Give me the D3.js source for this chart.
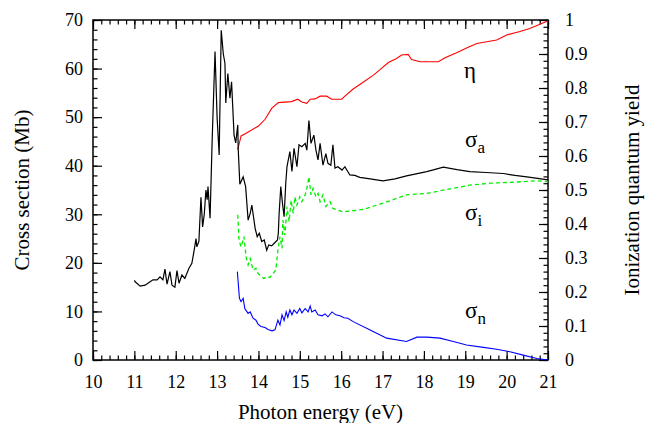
<!DOCTYPE html>
<html>
<head>
<meta charset="utf-8">
<script src="https://cdn.jsdelivr.net/npm/d3@7"></script>
<style>
  body { margin: 0; background: #fff; }
  svg text { font-family: "Liberation Serif", "Times New Roman", Times, serif; }
</style>
</head>
<body>
<svg id="chart"></svg>
<script>
// photon energy (eV) vs cross section (Mb)
const sigmaA = [
  [11.00, 16.4], [11.02, 16.1], [11.14, 15.2], [11.26, 15.4], [11.38, 16.1], [11.45, 16.5],
  [11.55, 16.5], [11.62, 17.1], [11.69, 16.5], [11.74, 18.7], [11.79, 15.6], [11.86, 18.2],
  [11.91, 15.4], [11.98, 15.0], [12.03, 18.4], [12.08, 15.8], [12.15, 17.5], [12.22, 16.8],
  [12.32, 18.9], [12.39, 19.9], [12.44, 22.3], [12.49, 25.0], [12.51, 23.3], [12.56, 24.4],
  [12.61, 33.5], [12.65, 27.4], [12.69, 30.0], [12.73, 35.0], [12.76, 33.0], [12.78, 35.7],
  [12.83, 29.2], [12.88, 45.0], [12.95, 63.5], [13.00, 50.0], [13.05, 42.2], [13.10, 67.9],
  [13.15, 63.0], [13.19, 61.1], [13.21, 52.9], [13.26, 59.0], [13.31, 53.9], [13.35, 57.3],
  [13.41, 46.3], [13.45, 44.7], [13.50, 48.4], [13.51, 43.6], [13.55, 36.2], [13.63, 37.7],
  [13.69, 35.7], [13.75, 28.8], [13.80, 30.2], [13.84, 31.9], [13.92, 27.1], [13.97, 25.4],
  [14.02, 26.1], [14.08, 24.4], [14.14, 24.7], [14.20, 22.6], [14.25, 23.7], [14.32, 23.5],
  [14.40, 24.2], [14.46, 24.7], [14.48, 26.1], [14.50, 30.2], [14.54, 35.7], [14.58, 32.3],
  [14.62, 29.5], [14.66, 36.4], [14.69, 39.8], [14.76, 42.9], [14.81, 38.8], [14.86, 43.6],
  [14.93, 39.8], [14.98, 44.3], [15.05, 43.9], [15.13, 44.6], [15.17, 43.2], [15.22, 49.3],
  [15.27, 44.6], [15.34, 46.3], [15.39, 43.2], [15.44, 41.2], [15.49, 44.6], [15.56, 40.1],
  [15.63, 42.5], [15.68, 40.5], [15.75, 40.1], [15.80, 44.3], [15.85, 39.5], [15.92, 39.8],
  [16.02, 39.1], [16.09, 39.8], [16.21, 38.1], [16.33, 38.0], [16.45, 37.6], [16.70, 37.3],
  [17.01, 36.9], [17.30, 37.3], [17.58, 37.9], [18.07, 38.8], [18.47, 39.7], [18.80, 39.2],
  [19.11, 38.8], [19.50, 38.6], [19.92, 38.4], [20.20, 38.0], [20.49, 37.7], [21.00, 37.1]
];

const sigmaI = [
  [13.50, 29.9], [13.53, 24.7], [13.58, 23.3], [13.65, 25.4], [13.70, 21.3], [13.75, 19.6],
  [13.80, 20.9], [13.87, 18.5], [13.94, 18.9], [13.99, 17.8], [14.06, 17.3], [14.13, 16.8],
  [14.21, 17.2], [14.28, 17.0], [14.35, 17.8], [14.42, 18.5], [14.47, 22.6], [14.52, 25.4],
  [14.57, 23.0], [14.59, 28.8], [14.64, 25.7], [14.69, 31.6], [14.74, 28.5], [14.79, 32.9],
  [14.84, 30.2], [14.88, 33.6], [14.93, 31.9], [15.00, 33.6], [15.05, 32.6], [15.13, 34.0],
  [15.17, 35.3], [15.22, 37.7], [15.27, 34.0], [15.32, 35.3], [15.39, 33.6], [15.44, 34.3],
  [15.49, 32.6], [15.56, 34.0], [15.63, 31.6], [15.73, 32.6], [15.80, 31.2], [16.05, 30.5],
  [16.53, 31.0], [17.02, 32.3], [17.58, 34.0], [18.07, 34.3], [18.55, 35.1], [19.11, 36.0],
  [19.60, 36.4], [20.16, 36.6], [20.73, 36.9], [21.00, 36.7]
];

const sigmaN = [
  [13.49, 18.2], [13.54, 12.7], [13.58, 12.0], [13.63, 12.7], [13.67, 10.6], [13.75, 9.6],
  [13.80, 9.9], [13.87, 8.6], [13.94, 8.2], [13.99, 7.4], [14.06, 6.9], [14.16, 6.7],
  [14.23, 6.3], [14.33, 6.0], [14.40, 6.2], [14.47, 8.2], [14.52, 7.2], [14.57, 9.3],
  [14.62, 8.1], [14.67, 9.9], [14.71, 8.8], [14.76, 10.3], [14.81, 9.3], [14.86, 10.3],
  [14.93, 9.6], [15.00, 10.6], [15.05, 9.7], [15.13, 10.6], [15.20, 9.9], [15.25, 11.1],
  [15.29, 9.9], [15.37, 10.3], [15.44, 9.3], [15.54, 9.1], [15.61, 9.5], [15.68, 8.9],
  [15.78, 9.9], [15.87, 9.3], [15.97, 9.1], [16.07, 8.7], [16.16, 8.6], [16.29, 7.9],
  [16.70, 6.2], [17.10, 4.5], [17.58, 3.8], [17.83, 4.7], [18.07, 4.7], [18.39, 4.5],
  [18.71, 3.8], [19.03, 3.1], [19.44, 2.6], [19.76, 2.2], [20.08, 1.7], [20.40, 1.0],
  [20.73, 0.3], [21.00, 0.0]
];

// ionization quantum yield (right axis)
const eta = [
  [13.49, 0.620], [13.51, 0.624], [13.58, 0.659], [13.67, 0.665], [14.00, 0.688], [14.16, 0.708],
  [14.32, 0.740], [14.48, 0.757], [14.80, 0.760], [14.95, 0.767], [15.05, 0.759], [15.17, 0.755],
  [15.25, 0.767], [15.37, 0.768], [15.49, 0.776], [15.65, 0.776], [15.77, 0.767], [16.01, 0.767],
  [16.09, 0.776], [16.29, 0.797], [16.53, 0.817], [16.78, 0.838], [16.94, 0.854], [17.14, 0.875],
  [17.34, 0.887], [17.46, 0.897], [17.62, 0.899], [17.70, 0.884], [17.91, 0.877], [18.35, 0.877],
  [18.51, 0.889], [18.79, 0.904], [19.03, 0.918], [19.28, 0.931], [19.76, 0.941], [20.00, 0.956],
  [20.32, 0.966], [20.56, 0.975], [20.89, 0.992], [21.00, 0.997]
];

const xTicks = d3.range(10, 22, 1);
const yLeftTicks = d3.range(0, 80, 10);
const yRightTicks = d3.range(0, 1.05, 0.1);

const width = 645, height = 423;
const margin = { top: 20, right: 97, bottom: 63, left: 93 };
const serif = "'Liberation Serif', 'Times New Roman', Times, serif";

const svg = d3.select("#chart")
  .attr("width", width)
  .attr("height", height)
  .attr("font-family", serif);

const x = d3.scaleLinear().domain([10, 21]).range([margin.left, width - margin.right]);
const yL = d3.scaleLinear().domain([0, 70]).range([height - margin.bottom, margin.top]);
const yR = d3.scaleLinear().domain([0, 1]).range([height - margin.bottom, margin.top]);

const fs = "18px";

function styleAxis(g) {
  g.attr("font-family", serif).attr("font-size", fs);
  g.select(".domain").remove();
  g.selectAll(".tick line").attr("stroke", "#000").attr("stroke-width", 1.2);
  g.selectAll(".tick text").attr("fill", "#000");
}

// minor ticks first
const minorX = d3.range(10, 21.001, 0.2);
const minorL = d3.range(0, 70.001, 2);
const minorR = d3.range(0, 1.0001, 0.02);

svg.append("g").attr("transform", `translate(0,${yL(0)})`)
  .call(d3.axisBottom(x).tickValues(minorX).tickSize(-4.5).tickFormat(""))
  .call(styleAxis);
svg.append("g").attr("transform", `translate(0,${yL(70)})`)
  .call(d3.axisTop(x).tickValues(minorX).tickSize(-4.5).tickFormat(""))
  .call(styleAxis);
svg.append("g").attr("transform", `translate(${x(10)},0)`)
  .call(d3.axisLeft(yL).tickValues(minorL).tickSize(-4.5).tickFormat(""))
  .call(styleAxis);
svg.append("g").attr("transform", `translate(${x(21)},0)`)
  .call(d3.axisRight(yR).tickValues(minorR).tickSize(-4.5).tickFormat(""))
  .call(styleAxis);

// major ticks with labels
svg.append("g").attr("transform", `translate(0,${yL(0)})`)
  .call(d3.axisBottom(x).tickValues(xTicks).tickSize(-9).tickPadding(15).tickFormat(d3.format("d")))
  .call(styleAxis);
svg.append("g").attr("transform", `translate(0,${yL(70)})`)
  .call(d3.axisTop(x).tickValues(xTicks).tickSize(-9).tickFormat(""))
  .call(styleAxis);
svg.append("g").attr("transform", `translate(${x(10)},0)`)
  .call(d3.axisLeft(yL).tickValues(yLeftTicks).tickSize(-9).tickPadding(10).tickFormat(d3.format("d")))
  .call(styleAxis);
svg.append("g").attr("transform", `translate(${x(21)},0)`)
  .call(d3.axisRight(yR).tickValues(yRightTicks).tickSize(-9).tickPadding(17)
    .tickFormat(d => d === 0 ? "0" : d >= 0.999 ? "1" : d3.format(".1f")(d)))
  .call(styleAxis);

// frame
svg.append("rect")
  .attr("x", x(10)).attr("y", yL(70))
  .attr("width", x(21) - x(10)).attr("height", yL(0) - yL(70))
  .attr("fill", "none").attr("stroke", "#000").attr("stroke-width", 1.5);

const lineL = d3.line().x(d => x(d[0])).y(d => yL(d[1]));
const lineR = d3.line().x(d => x(d[0])).y(d => yR(d[1]));

svg.append("path").datum(eta)
  .attr("d", lineR).attr("fill", "none").attr("stroke", "#ff0000").attr("stroke-width", 1.1);
svg.append("path").datum(sigmaN)
  .attr("d", lineL).attr("fill", "none").attr("stroke", "#0000ff").attr("stroke-width", 1.1);
svg.append("path").datum(sigmaI)
  .attr("d", lineL).attr("fill", "none").attr("stroke", "#00ee00").attr("stroke-width", 1.3)
  .attr("stroke-dasharray", "4,3");
svg.append("path").datum(sigmaA)
  .attr("d", lineL).attr("fill", "none").attr("stroke", "#000").attr("stroke-width", 1.2);

// curve labels
const labels = [
  { main: "η", sub: "", x: 464, y: 78 },
  { main: "σ", sub: "a", x: 465, y: 147 },
  { main: "σ", sub: "i", x: 465, y: 220 },
  { main: "σ", sub: "n", x: 465, y: 318 }
];
labels.forEach(l => {
  const t = svg.append("text").attr("x", l.x).attr("y", l.y)
    .attr("font-size", "23px").attr("fill", "#000");
  t.append("tspan").text(l.main);
  if (l.sub) t.append("tspan").attr("dy", 6).attr("font-size", "17px").text(l.sub);
});

// axis titles
svg.append("text")
  .attr("x", (x(10) + x(21)) / 2).attr("y", 419)
  .attr("text-anchor", "middle").attr("font-size", "21px")
  .text("Photon energy (eV)");
svg.append("text")
  .attr("transform", `translate(29,${(yL(0) + yL(70)) / 2}) rotate(-90)`)
  .attr("text-anchor", "middle").attr("font-size", "21px")
  .text("Cross section (Mb)");
svg.append("text")
  .attr("transform", `translate(639,${(yL(0) + yL(70)) / 2}) rotate(-90)`)
  .attr("text-anchor", "middle").attr("font-size", "21px")
  .text("Ionization quantum yield");
</script>
</body>
</html>
